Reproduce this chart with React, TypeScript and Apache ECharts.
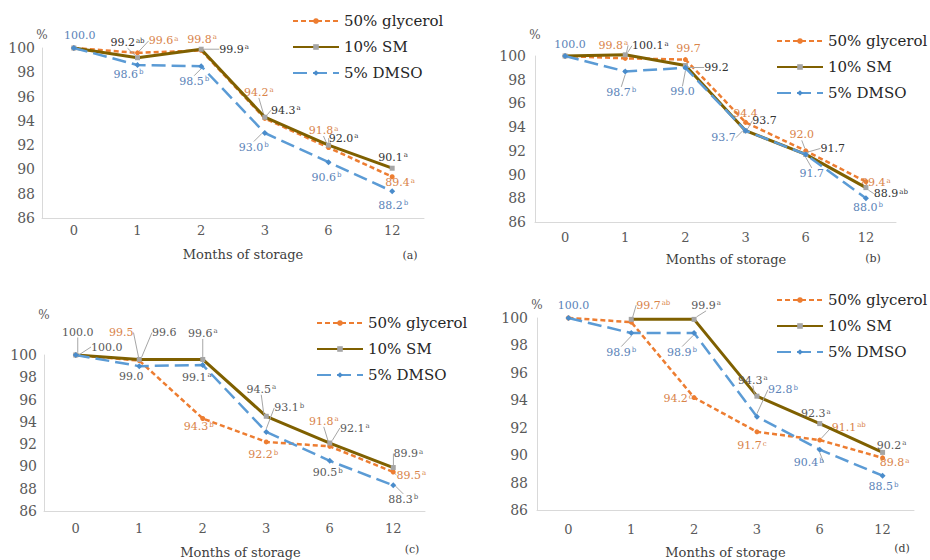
import React, { useEffect, useRef } from 'react';
import * as echarts from 'echarts';

// ---------- data ----------
const months = ['0', '1', '2', '3', '6', '12'];
const seriesNames = ['50% glycerol', '10% SM', '5% DMSO'];
const yMin = 86;
const yMax = 100;
const yStep = 2;
const panelTags = ['(a)', '(b)', '(c)', '(d)'];
const xAxisTitle = 'Months of storage';
const yAxisTitle = '%';

// (a)
const aGlycerol = [100, 99.6, 99.8, 94.2, 91.8, 89.4];
const aSM = [100, 99.2, 99.9, 94.3, 92.0, 90.1];
const aDMSO = [100, 98.6, 98.5, 93.0, 90.6, 88.2];
const aGlycerolSup = [null, 'a', 'a', 'a', 'a', 'a'];
const aSMSup = [null, 'ab', 'a', 'a', 'a', 'a'];
const aDMSOSup = ['', 'b', 'b', 'b', 'b', 'b'];
// (b)
const bGlycerol = [100, 99.8, 99.7, 94.4, 92.0, 89.4];
const bSM = [100, 100.1, 99.2, 93.7, 91.7, 88.9];
const bDMSO = [100, 98.7, 99.0, 93.7, 91.7, 88.0];
const bGlycerolSup = [null, 'a', '', '', '', 'a'];
const bSMSup = [null, 'a', '', '', '', 'ab'];
const bDMSOSup = ['', 'b', '', '', '', 'b'];
// (c)
const cGlycerol = [100, 99.5, 94.3, 92.2, 91.8, 89.5];
const cSM = [100, 99.6, 99.6, 94.5, 92.1, 89.9];
const cDMSO = [100, 99.0, 99.1, 93.1, 90.5, 88.3];
const cGlycerolSup = [null, '', 'b', 'b', 'a', 'a'];
const cSMSup = ['', '', 'a', 'a', 'a', 'a'];
const cDMSOSup = ['', '', 'a', 'b', 'b', 'b'];
// (d)
const dGlycerol = [100, 99.7, 94.2, 91.7, 91.1, 89.8];
const dSM = [null, 99.9, 99.9, 94.3, 92.3, 90.2];
const dDMSO = [100, 98.9, 98.9, 92.8, 90.4, 88.5];
const dGlycerolSup = [null, 'ab', 'c', 'c', 'ab', 'a'];
const dSMSup = [null, null, 'a', 'a', 'a', 'a'];
const dDMSOSup = ['', 'b', 'b', 'b', 'b', 'b'];

// ---------- layout (label offsets in px relative to each point) ----------
const aOffsets = [
  [null, [26, -12], [1, -11], [-6, -26], [-5, -17], [8, 6]],
  [null, [-10, -15], [33, 0], [21, -7], [15, -7], [1, -11]],
  [[6, -13], [-9, 9], [-7, 15], [-11, 14], [-2, 15], [1, 14]],
];
const bOffsets = [
  [null, [-12, -13], [3, -11], [0, -9], [-4, -16], [10, 1]],
  [null, [25, -9], [31, 2], [19, -10], [27, -6], [25, 6]],
  [[5, -12], [-4, 21], [-3, 24], [-22, 7], [6, 19], [2, 9]],
];
const cOffsets = [
  [null, [-18, -28], [-4, 8], [-3, 13], [-6, -25], [18, 3]],
  [[2, -23], [25, -27], [0, -26], [-5, -27], [25, -15], [15, -14]],
  [[31, -8], [-8, 10], [-6, 12], [23, -24], [-2, 12], [10, 14]],
];
const dOffsets = [
  [null, [22, -17], [-16, 1], [-5, 14], [29, -13], [12, 5]],
  [null, null, [12, -14], [-4, -16], [-4, -10], [9, -7]],
  [[5, -13], [-10, 19], [-12, 19], [26, -27], [-11, 13], [1, 11]],
];

const FONT = 'DejaVu Serif';
const lineColors = ['#ED7D31', '#7F6000', '#5B9BD5'];
const markerColors = ['#ED7D31', '#A5A5A5', '#4A8CCB'];

const panels = [
  {
    grid: { left: 42, top: 48, width: 382, height: 170 },
    data: [aGlycerol, aSM, aDMSO],
    sups: [aGlycerolSup, aSMSup, aDMSOSup],
    offsets: aOffsets,
    labelColors: ['#D9844A', '#333333', '#5B83B8'],
    legend: { left: 292, top: 13 },
    yNameGap: 7, yLabelMargin: 7, xLabelMargin: 6, xNameGap: 30, xNameShift: 20,
    tag: { x: 410, y: 255 },
  },
  {
    grid: { left: 535, top: 56, width: 361, height: 166 },
    data: [bGlycerol, bSM, bDMSO],
    sups: [bGlycerolSup, bSMSup, bDMSOSup],
    offsets: bOffsets,
    labelColors: ['#D9844A', '#333333', '#5B83B8'],
    legend: { left: 776, top: 33 },
    yNameGap: 15, yLabelMargin: 9, xLabelMargin: 9, xNameGap: 31, xNameShift: 21,
    tag: { x: 873, y: 258 },
  },
  {
    grid: { left: 44, top: 355, width: 381, height: 156 },
    data: [cGlycerol, cSM, cDMSO],
    sups: [cGlycerolSup, cSMSup, cDMSOSup],
    offsets: cOffsets,
    labelColors: ['#D9844A', '#595959', '#595959'],
    legend: { left: 316, top: 315 },
    yNameGap: 34, yLabelMargin: 7, xLabelMargin: 11, xNameGap: 35, xNameShift: 12,
    tag: { x: 412, y: 549 },
  },
  {
    grid: { left: 537, top: 318, width: 377, height: 192 },
    data: [dGlycerol, dSM, dDMSO],
    sups: [dGlycerolSup, dSMSup, dDMSOSup],
    offsets: dOffsets,
    labelColors: ['#D9844A', '#595959', '#5B83B8'],
    legend: { left: 776, top: 292 },
    yNameGap: 7, yLabelMargin: 9, xLabelMargin: 13, xNameGap: 36, xNameShift: 0,
    tag: { x: 902, y: 548 },
  },
];

function buildOption() {
  const grids: any[] = [];
  const xAxes: any[] = [];
  const yAxes: any[] = [];
  const series: any[] = [];
  const legends: any[] = [];
  const graphics: any[] = [];

  panels.forEach((p, pi) => {
    grids.push({ ...p.grid, containLabel: false });
    xAxes.push({
      type: 'category',
      gridIndex: pi,
      data: months,
      boundaryGap: true,
      axisLine: { show: true, lineStyle: { color: '#D9D9D9', width: 1 } },
      axisTick: { show: false },
      axisLabel: { color: '#595959', fontFamily: FONT, fontSize: 13, margin: p.xLabelMargin },
      name: xAxisTitle,
      nameLocation: 'middle',
      nameGap: p.xNameGap,
      nameTextStyle: {
        color: '#404040', fontFamily: FONT, fontSize: 13,
        padding: [0, 0, 0, p.xNameShift],
      },
      splitLine: { show: false },
    });
    yAxes.push({
      type: 'value',
      gridIndex: pi,
      min: yMin,
      max: yMax,
      interval: yStep,
      axisLine: { show: true, lineStyle: { color: '#D9D9D9', width: 1 } },
      axisTick: { show: false },
      splitLine: { show: false },
      axisLabel: { color: '#595959', fontFamily: FONT, fontSize: 14, margin: p.yLabelMargin },
      name: yAxisTitle,
      nameLocation: 'end',
      nameGap: p.yNameGap,
      nameTextStyle: { color: '#595959', fontFamily: FONT, fontSize: 12, align: 'center' },
    });

    p.data.forEach((vals, si) => {
      const sups = p.sups[si];
      const offs = p.offsets[si];
      const color = p.labelColors[si];
      const items = vals.map((v, i) => {
        const sup = sups[i];
        const off = offs[i];
        const dist = off ? Math.hypot(off[0], off[1]) : 0;
        return {
          value: v,
          label: { show: v != null && sup !== null },
          labelLine: { show: v != null && sup !== null && dist > 16 },
        };
      });
      const isSM = si === 1;
      series.push({
        name: seriesNames[si],
        type: 'line',
        xAxisIndex: pi,
        yAxisIndex: pi,
        data: items,
        clip: false,
        z: 2 + si,
        symbol: si === 0 ? 'circle' : si === 1 ? 'rect' : 'diamond',
        symbolSize: si === 2 ? 6 : 5,
        showSymbol: true,
        itemStyle: { color: markerColors[si] },
        lineStyle: {
          color: lineColors[si],
          width: isSM ? 3 : 2.5,
          type: si === 0 ? [5, 3] : si === 2 ? [14, 6] : 'solid',
        },
        label: {
          show: true,
          position: 'inside',
          align: 'center',
          verticalAlign: 'middle',
          formatter: (prm: any) => {
            const sup = sups[prm.dataIndex];
            const val = Number(prm.value).toFixed(1);
            return sup ? `{v|${val}}{s|${sup}}` : `{v|${val}}`;
          },
          rich: {
            v: { fontFamily: FONT, fontSize: 11, color },
            s: { fontFamily: FONT, fontSize: 7, color, verticalAlign: 'top', padding: [0, 0, 0, 1] },
          },
        },
        labelLine: { show: true, lineStyle: { color: '#A6A6A6', width: 1 } },
        labelLayout: (prm: any) => {
          const o = offs[prm.dataIndex];
          return o ? { dx: o[0], dy: o[1] } : {};
        },
        emphasis: { disabled: true },
      });
    });

    legends.push({
      orient: 'vertical',
      left: p.legend.left,
      top: p.legend.top,
      itemWidth: 46,
      itemHeight: 7,
      itemGap: 10,
      padding: 0,
      data: seriesNames,
      textStyle: { fontFamily: FONT, fontSize: 15, color: '#262626', lineHeight: 16 },
      selectedMode: false,
    });

    graphics.push({
      type: 'text',
      x: p.tag.x,
      y: p.tag.y,
      style: {
        text: panelTags[pi],
        fontFamily: FONT,
        fontSize: 11,
        fill: '#404040',
        align: 'center',
        verticalAlign: 'middle',
      },
    });
  });

  return {
    animation: false,
    backgroundColor: '#ffffff',
    grid: grids,
    xAxis: xAxes,
    yAxis: yAxes,
    legend: legends,
    series,
    graphic: graphics,
    tooltip: { show: false },
  };
}

export default function App() {
  const ref = useRef<HTMLDivElement>(null);
  useEffect(() => {
    if (!ref.current) return;
    const chart = echarts.init(ref.current, undefined, { renderer: 'svg' });
    chart.setOption(buildOption() as any);
    return () => chart.dispose();
  }, []);
  return (
    <div
      ref={ref}
      style={{ width: 930, height: 560, position: 'absolute', left: 0, top: 0 }}
    />
  );
}
